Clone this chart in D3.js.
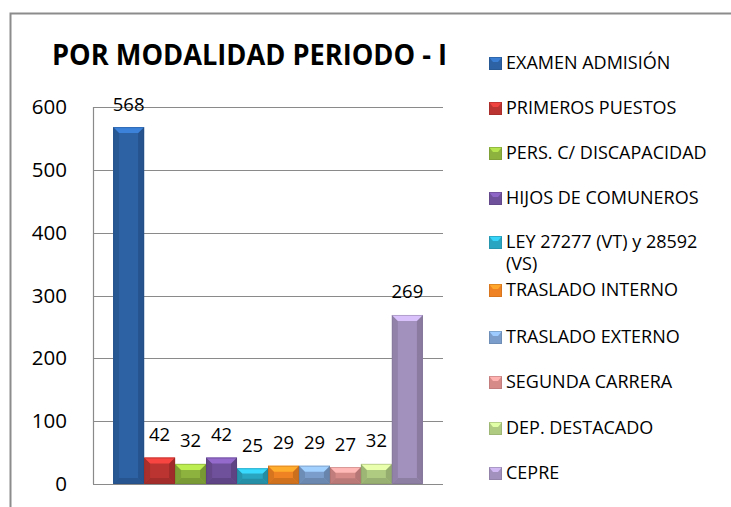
<!DOCTYPE html>
<html><head><meta charset="utf-8">
<script src="https://cdn.jsdelivr.net/npm/d3@7"></script>
<style>body{margin:0;background:#fff}svg{display:block}</style>
</head><body><svg id="c" width="731" height="507"></svg>
<script>
const categories = ["EXAMEN ADMISIÓN","PRIMEROS PUESTOS","PERS. C/ DISCAPACIDAD","HIJOS DE COMUNEROS","LEY 27277 (VT) y 28592 (VS)","TRASLADO INTERNO","TRASLADO EXTERNO","SEGUNDA CARRERA","DEP. DESTACADO","CEPRE"];
const values = [568,42,32,42,25,29,29,27,32,269];
const colors = ["#2d62a5","#bb3431","#8db23d","#6f509a","#2aa5c1","#ef8222","#7a9dcb","#d68b89","#afcb82","#a391bd"];
const yTicks = [0,100,200,300,400,500,600];
const title = "POR MODALIDAD PERIODO - I";

const svg = d3.select("#c");
const font = "'Open Sans', sans-serif";
svg.append("rect").attr("x",10.5).attr("y",13.5).attr("width",900).attr("height",700)
  .attr("fill","none").attr("stroke","#8c8c8c").attr("stroke-width",2);

const plot = {left:93, right:443, top:107, bottom:484};
const y = d3.scaleLinear().domain([0,600]).range([plot.bottom, plot.top]);
const x0 = d3.scaleBand().domain(["g"]).range([plot.left, plot.right]).paddingInner(0).paddingOuter(0.065);
const x = d3.scaleBand().domain(categories).range([x0("g"), x0("g")+x0.bandwidth()]).padding(0);

// gridlines
svg.append("g").selectAll("line").data(yTicks).join("line")
  .attr("x1",plot.left).attr("x2",plot.right)
  .attr("y1",d=>Math.round(y(d))+0.5).attr("y2",d=>Math.round(y(d))+0.5)
  .attr("stroke","#8a8a8a").attr("stroke-width",1.2);
svg.append("line").attr("x1",plot.left+0.5).attr("x2",plot.left+0.5)
  .attr("y1",plot.top).attr("y2",plot.bottom).attr("stroke","#8a8a8a").attr("stroke-width",1.2);

const yAxis = d3.axisLeft(y).tickValues(yTicks).tickSize(0).tickPadding(26);
const ga = svg.append("g").attr("transform",`translate(${plot.left},0)`).call(yAxis);
ga.select(".domain").remove();
ga.selectAll("text").attr("font-family",font).attr("font-size",20.5).attr("fill","#000");

// bars with bevel
const bars = svg.append("g").selectAll("g").data(categories).join("g");
bars.each(function(c,i){
  const g = d3.select(this);
  const bx = x(c), bw = x.bandwidth(), by = y(values[i]), bh = plot.bottom - by;
  const col = d3.color(colors[i]);
  const b = Math.min(6, bh/3);
  g.append("rect").attr("x",bx).attr("y",by).attr("width",bw).attr("height",bh).attr("fill",col);
  g.append("polygon").attr("points",[[bx,by],[bx+b,by+b],[bx+b,by+bh-b],[bx,by+bh]].join(" "))
    .attr("fill",col.darker(0.3));
  g.append("polygon").attr("points",[[bx+bw,by],[bx+bw-b,by+b],[bx+bw-b,by+bh-b],[bx+bw,by+bh]].join(" "))
    .attr("fill",col.darker(0.45));
  g.append("polygon").attr("points",[[bx,by+bh],[bx+b,by+bh-b],[bx+bw-b,by+bh-b],[bx+bw,by+bh]].join(" "))
    .attr("fill",col.darker(0.4));
  g.append("polygon").attr("points",[[bx,by],[bx+bw,by],[bx+bw-b,by+b],[bx+b,by+b]].join(" "))
    .attr("fill",col.brighter(0.8));
  g.append("rect").attr("x",bx+0.5).attr("y",by+0.5).attr("width",bw-1).attr("height",bh-1)
    .attr("fill","none").attr("stroke",col.darker(0.8)).attr("stroke-opacity",0.4);
});

// data labels
svg.append("g").selectAll("text").data(categories).join("text")
  .attr("x",c=>x(c)+x.bandwidth()/2)
  .attr("y",(c,i)=>y(values[i])-23)
  .attr("dy","0.35em").attr("text-anchor","middle")
  .attr("font-family",font).attr("font-size",18.5).attr("fill","#000")
  .text((c,i)=>values[i]);

// title
svg.append("text").attr("x",52).attr("y",65).attr("font-family",font).attr("font-weight","bold")
  .attr("font-size",29).attr("fill","#000").attr("textLength",395).attr("lengthAdjust","spacingAndGlyphs").text(title);

// legend
const legY = [63,108,153,198,242,290,337,382,428,473];
const lg = svg.append("g").selectAll("g").data(categories).join("g")
  .attr("transform",(c,i)=>`translate(489,${legY[i]})`);
lg.each(function(c,i){
  const g = d3.select(this);
  const col = d3.color(colors[i]);
  g.append("rect").attr("x",0).attr("y",-6).attr("width",13).attr("height",13).attr("fill",col);
  g.append("polygon").attr("points","0,-6 13,-6 9,-1 4,-1").attr("fill",col.brighter(0.7));
  g.append("rect").attr("x",0.5).attr("y",-5.5).attr("width",12).attr("height",12).attr("fill","none").attr("stroke",col.darker(0.6)).attr("stroke-opacity",0.5);
  if (c.startsWith("LEY")) {
    g.append("text").attr("x",17).attr("y",0).attr("dy","0.35em")
      .attr("font-family",font).attr("font-size",18).attr("fill","#000").text("LEY 27277 (VT) y 28592");
    g.append("text").attr("x",17).attr("y",22).attr("dy","0.35em")
      .attr("font-family",font).attr("font-size",18).attr("fill","#000").text("(VS)");
  } else {
    g.append("text").attr("x",17).attr("y",0).attr("dy","0.35em")
      .attr("font-family",font).attr("font-size",18).attr("fill","#000").text(c);
  }
});
</script></body></html>
